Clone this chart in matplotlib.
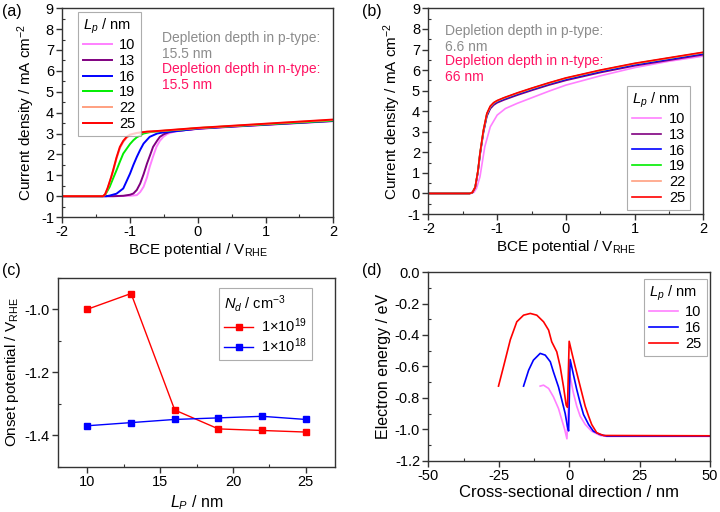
import matplotlib
matplotlib.use('Agg')
import matplotlib.pyplot as plt
from matplotlib.ticker import MultipleLocator, FormatStrFormatter

plt.rcParams['font.family'] = ['Liberation Sans', 'DejaVu Sans']
plt.rcParams['mathtext.fontset'] = 'custom'
plt.rcParams['mathtext.rm'] = 'Liberation Sans'
plt.rcParams['mathtext.it'] = 'Liberation Sans:italic'
plt.rcParams['axes.unicode_minus'] = False
plt.rcParams['font.size'] = 10

# ---- data ----
lp_labels = ['10', '13', '16', '19', '22', '25']
lp_colors = ['#FF80FF', '#800080', '#0000FF', '#00EE00', '#FFA080', '#FF0000']

# (a) Nd = 1e19
a_x = {
    '10': [-2, -1.2, -1.0, -0.9, -0.85, -0.8, -0.75, -0.71, -0.66, -0.61, -0.56, -0.51, -0.45, -0.36, -0.25, -0.1, 0, 0.5, 1, 1.5, 2],
    '13': [-2, -1.25, -1.1, -1.0, -0.95, -0.9, -0.85, -0.8, -0.75, -0.7, -0.66, -0.6, -0.56, -0.5, -0.41, -0.3, -0.1, 0, 0.5, 1, 1.5, 2],
    '16': [-2, -1.35, -1.3, -1.2, -1.1, -1.0, -0.95, -0.9, -0.85, -0.8, -0.71, -0.6, -0.5, -0.3, -0.1, 0, 0.5, 1, 1.5, 2],
    '19': [-2, -1.4, -1.36, -1.3, -1.25, -1.2, -1.15, -1.1, -1.0, -0.95, -0.9, -0.8, -0.7, -0.6, -0.4, -0.2, 0, 0.5, 1, 1.5, 2],
    '22': [-2, -1.4, -1.37, -1.33, -1.28, -1.25, -1.2, -1.15, -1.1, -1.05, -1.0, -0.9, -0.75, -0.6, -0.4, -0.2, 0, 0.5, 1, 1.5, 2],
    '25': [-2, -1.4, -1.37, -1.33, -1.28, -1.25, -1.2, -1.15, -1.1, -1.05, -1.0, -0.9, -0.75, -0.6, -0.4, -0.2, 0, 0.5, 1, 1.5, 2],
}
a_y = {
    '10': [0, 0, 0.02, 0.05, 0.2, 0.45, 0.9, 1.4, 1.9, 2.36, 2.65, 2.84, 2.98, 3.08, 3.14, 3.19, 3.22, 3.32, 3.41, 3.5, 3.59],
    '13': [0, 0, 0.02, 0.07, 0.13, 0.3, 0.61, 1.05, 1.56, 2.0, 2.36, 2.66, 2.84, 2.97, 3.08, 3.13, 3.19, 3.23, 3.33, 3.42, 3.51, 3.6],
    '16': [0, 0, 0.03, 0.12, 0.37, 1.08, 1.5, 1.88, 2.22, 2.52, 2.84, 3.0, 3.06, 3.12, 3.2, 3.24, 3.34, 3.43, 3.52, 3.61],
    '19': [0, 0, 0.1, 0.45, 0.85, 1.24, 1.65, 2.04, 2.5, 2.68, 2.82, 3.0, 3.07, 3.1, 3.15, 3.2, 3.26, 3.35, 3.44, 3.53, 3.62],
    '22': [0, 0, 0.07, 0.38, 0.88, 1.2, 1.8, 2.3, 2.6, 2.8, 2.92, 3.02, 3.08, 3.11, 3.16, 3.21, 3.26, 3.36, 3.46, 3.56, 3.65],
    '25': [0, 0, 0.08, 0.4, 0.9, 1.24, 1.85, 2.36, 2.65, 2.84, 2.95, 3.03, 3.09, 3.12, 3.17, 3.22, 3.27, 3.37, 3.47, 3.57, 3.67],
}

# (b) Nd = 1e18
b_x_common = [-2, -1.4, -1.36, -1.32, -1.28, -1.25, -1.2, -1.15, -1.1, -1.05, -1.0, -0.9, -0.7, -0.5, -0.25, 0, 0.5, 1, 1.5, 2]
b_x_10 = [-2, -1.38, -1.34, -1.3, -1.25, -1.18, -1.1, -1.0, -0.88, -0.71, -0.5, -0.25, 0, 0.5, 1, 1.5, 2]
b_y = {
    '10': [0, 0, 0.05, 0.25, 0.81, 2.27, 3.24, 3.81, 4.13, 4.38, 4.65, 4.97, 5.27, 5.72, 6.12, 6.43, 6.68],
    '13': [0, 0, 0.04, 0.28, 1.0, 1.85, 2.95, 3.75, 4.12, 4.3, 4.41, 4.55, 4.79, 5.01, 5.27, 5.5, 5.88, 6.21, 6.48, 6.75],
    '16': [0, 0, 0.05, 0.3, 1.05, 1.9, 3.0, 3.8, 4.18, 4.36, 4.46, 4.6, 4.84, 5.06, 5.32, 5.55, 5.93, 6.26, 6.53, 6.8],
    '19': [0, 0, 0.05, 0.3, 1.08, 1.93, 3.05, 3.86, 4.22, 4.4, 4.5, 4.64, 4.88, 5.1, 5.36, 5.6, 5.98, 6.31, 6.58, 6.85],
    '22': [0, 0, 0.05, 0.3, 1.08, 1.93, 3.05, 3.86, 4.22, 4.4, 4.5, 4.64, 4.88, 5.1, 5.36, 5.6, 5.98, 6.31, 6.58, 6.85],
    '25': [0, 0, 0.05, 0.3, 1.1, 1.95, 3.08, 3.89, 4.25, 4.42, 4.52, 4.66, 4.9, 5.12, 5.38, 5.62, 6.0, 6.33, 6.6, 6.87],
}

# (c) onset potential
lp_vals = [10, 13, 16, 19, 22, 25]
onset_1e19 = [-1.0, -0.95, -1.32, -1.38, -1.385, -1.39]
onset_1e18 = [-1.37, -1.36, -1.35, -1.345, -1.34, -1.35]

# (d) band profiles
d_labels = ['10', '16', '25']
d_colors = ['#FF80FF', '#0000FF', '#FF0000']
d_x = {
    '10': [-10.3, -9.1, -7.3, -5.6, -3.8, -2.6, -1.6, -0.8, 0.2, 1.5, 2.7, 3.9, 5.7, 8.0, 11, 13.4, 50],
    '16': [-16.2, -14.4, -12.7, -10.3, -8.5, -6.7, -5.6, -3.8, -2.6, -1.4, -0.6, -0.2, 0.35, 1.5, 2.7, 3.9, 5.1, 6.9, 8.6, 11, 13.4, 50],
    '25': [-25.1, -23.3, -20.9, -18.6, -16.2, -13.8, -11.5, -9.1, -7.3, -6.2, -4.4, -3.2, -2.0, -1.06, -0.6, 0.0, 0.95, 2.1, 3.3, 4.5, 5.7, 6.9, 8.0, 9.8, 12.2, 50],
}
d_y = {
    '10': [-0.725, -0.719, -0.74, -0.793, -0.867, -0.94, -1.0, -1.06, -0.651, -0.768, -0.853, -0.916, -0.969, -1.012, -1.039, -1.045, -1.045],
    '16': [-0.725, -0.624, -0.56, -0.517, -0.528, -0.57, -0.634, -0.73, -0.814, -0.9, -0.984, -1.01, -0.556, -0.651, -0.747, -0.831, -0.906, -0.969, -1.012, -1.033, -1.043, -1.043],
    '25': [-0.725, -0.6, -0.43, -0.316, -0.274, -0.263, -0.274, -0.316, -0.369, -0.443, -0.507, -0.6, -0.73, -0.846, -0.86, -0.44, -0.513, -0.598, -0.683, -0.768, -0.853, -0.916, -0.969, -1.022, -1.039, -1.041],
}

grey_txt = '#8C8C8C'
pink_txt = '#FF1464'
spine_c = '#333333'


def style_axes(ax):
    for s in ax.spines.values():
        s.set_color(spine_c)
        s.set_linewidth(1.0)
    ax.tick_params(which='major', direction='out', length=4, width=1.0, color=spine_c,
                   top=False, right=False, labelsize=10.5, pad=2)
    ax.tick_params(which='minor', direction='in', length=2.5, width=0.8, color=spine_c,
                   top=False, right=False)


def make_legend(ax, title, **kw):
    leg = ax.legend(title=title, fontsize=10.5, title_fontsize=10.5, frameon=True,
                    fancybox=False, borderaxespad=0, alignment='left',
                    handlelength=2.0, handletextpad=0.5, labelspacing=0.12,
                    borderpad=0.35, **kw)
    leg.get_frame().set_edgecolor('#999999')
    leg.get_frame().set_linewidth(0.8)
    return leg


fig = plt.figure(figsize=(7.2, 5.12), dpi=100)

# ---- (a) ----
ax = fig.add_axes([0.0865, 0.576, 0.3764, 0.408])
for lab, col in zip(lp_labels, lp_colors):
    ax.plot(a_x[lab], a_y[lab], color=col, lw=1.4, label=lab)
ax.set_xlim(-2, 2)
ax.set_ylim(-1, 9)
ax.xaxis.set_major_locator(MultipleLocator(1))
ax.xaxis.set_minor_locator(MultipleLocator(0.5))
ax.yaxis.set_major_locator(MultipleLocator(1))
ax.yaxis.set_minor_locator(MultipleLocator(0.5))
style_axes(ax)
ax.set_xlabel('BCE potential / V$_\\mathrm{RHE}$', fontsize=11, labelpad=1)
ax.set_ylabel('Current density / mA cm$^{-2}$', fontsize=11, labelpad=3)
make_legend(ax, '$L_p$ / nm', loc='upper left', bbox_to_anchor=(0.057, 0.982))
ax.text(0.368, 0.82, 'Depletion depth in p-type:\n15.5 nm', transform=ax.transAxes,
        color=grey_txt, fontsize=10, va='center', linespacing=1.2)
ax.text(0.368, 0.67, 'Depletion depth in n-type:\n15.5 nm', transform=ax.transAxes,
        color=pink_txt, fontsize=10, va='center', linespacing=1.2)
fig.text(0.003, 0.977, '(a)', fontsize=11.5, va='center')

# ---- (b) ----
ax = fig.add_axes([0.595, 0.582, 0.382, 0.4016])
for lab, col in zip(lp_labels, lp_colors):
    xs = b_x_10 if lab == '10' else b_x_common
    ax.plot(xs, b_y[lab], color=col, lw=1.2, label=lab)
ax.set_xlim(-2, 2)
ax.set_ylim(-1, 9)
ax.xaxis.set_major_locator(MultipleLocator(1))
ax.xaxis.set_minor_locator(MultipleLocator(0.5))
ax.yaxis.set_major_locator(MultipleLocator(1))
ax.yaxis.set_minor_locator(MultipleLocator(0.5))
style_axes(ax)
ax.set_xlabel('BCE potential / V$_\\mathrm{RHE}$', fontsize=11, labelpad=1)
ax.set_ylabel('Current density / mA cm$^{-2}$', fontsize=11, labelpad=3)
make_legend(ax, '$L_p$ / nm', loc='lower right', bbox_to_anchor=(0.952, 0.02))
ax.text(0.06, 0.851, 'Depletion depth in p-type:\n6.6 nm', transform=ax.transAxes,
        color=grey_txt, fontsize=10, va='center', linespacing=1.2)
ax.text(0.06, 0.704, 'Depletion depth in n-type:\n66 nm', transform=ax.transAxes,
        color=pink_txt, fontsize=10, va='center', linespacing=1.2)
fig.text(0.503, 0.977, '(b)', fontsize=11.5, va='center')

# ---- (c) ----
ax = fig.add_axes([0.081, 0.0885, 0.384, 0.369])
ax.plot(lp_vals, onset_1e19, color='#FF0000', lw=1.0, marker='s', ms=4,
        label='1$\\times$10$^{19}$')
ax.plot(lp_vals, onset_1e18, color='#0000FF', lw=1.0, marker='s', ms=4,
        label='1$\\times$10$^{18}$')
ax.set_xlim(8, 27)
ax.set_ylim(-1.5, -0.9)
ax.xaxis.set_major_locator(MultipleLocator(5))
ax.xaxis.set_minor_locator(MultipleLocator(2.5))
ax.yaxis.set_major_locator(MultipleLocator(0.2))
ax.yaxis.set_minor_locator(MultipleLocator(0.1))
ax.yaxis.set_major_formatter(FormatStrFormatter('%.1f'))
style_axes(ax)
ax.set_xlabel('$L_P$ / nm', fontsize=11.5, labelpad=3)
ax.set_ylabel('Onset potential / V$_\\mathrm{RHE}$', fontsize=11, labelpad=3)
make_legend(ax, '$N_d$ / cm$^{-3}$', loc='upper right', bbox_to_anchor=(0.917, 0.945))
fig.text(0.003, 0.472, '(c)', fontsize=11.5, va='center')

# ---- (d) ----
ax = fig.add_axes([0.595, 0.100, 0.391, 0.3686])
for lab, col in zip(d_labels, d_colors):
    ax.plot(d_x[lab], d_y[lab], color=col, lw=1.2, label=lab)
ax.set_xlim(-50, 50)
ax.set_ylim(-1.2, 0.0)
ax.xaxis.set_major_locator(MultipleLocator(25))
ax.xaxis.set_minor_locator(MultipleLocator(12.5))
ax.yaxis.set_major_locator(MultipleLocator(0.2))
ax.yaxis.set_minor_locator(MultipleLocator(0.1))
ax.yaxis.set_major_formatter(FormatStrFormatter('%.1f'))
style_axes(ax)
ax.set_xlabel('Cross-sectional direction / nm', fontsize=12, labelpad=1)
ax.set_ylabel('Electron energy / eV', fontsize=11.5, labelpad=3)
make_legend(ax, '$L_p$ / nm', loc='upper right', bbox_to_anchor=(0.989, 0.963))
fig.text(0.503, 0.472, '(d)', fontsize=11.5, va='center')

fig.savefig('out.png', dpi=100)
